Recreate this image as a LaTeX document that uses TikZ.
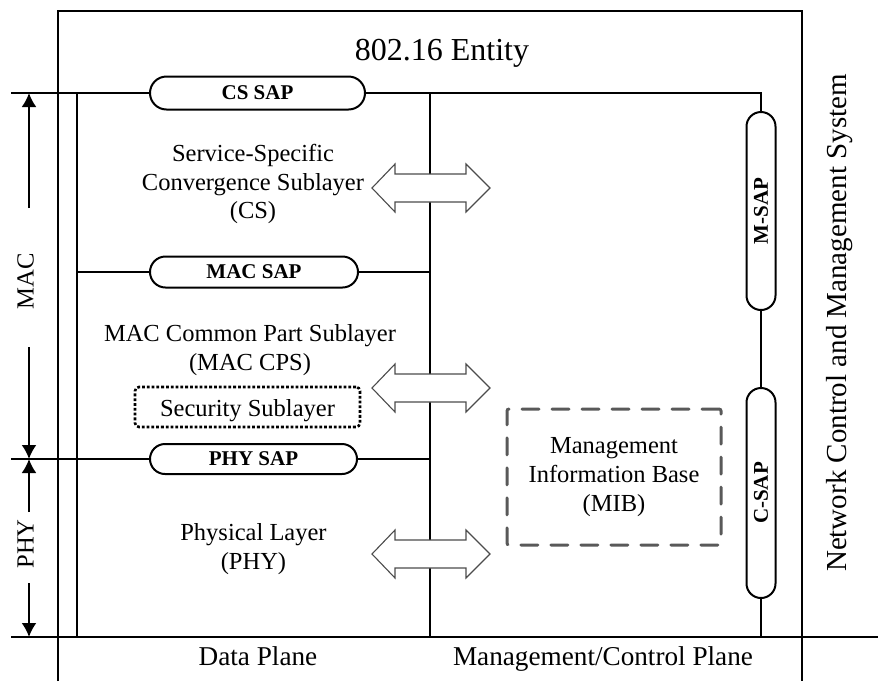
\documentclass[tikz,border=0pt]{standalone}
\usepackage{fontspec}
\setmainfont{Liberation Serif}
\usetikzlibrary{shapes.misc,arrows.meta}
\begin{document}
\begin{tikzpicture}[x=0.5pt,y=-0.5pt,
  line/.style={line width=1pt,black},
  pill/.style={draw,line width=1pt,rounded rectangle,inner sep=0pt,fill=white,
    font=\bfseries\fontsize{10.5}{12}\selectfont},
  body/.style={align=center,inner sep=0pt,font=\fontsize{12.25}{14.3}\selectfont},
  blockarrow/.style={draw=black!70,line width=0.55pt,fill=white,line join=miter},
  dimarrow/.style={line width=1pt,-{Latex[length=7pt,width=7.5pt]}},
  secbox/.style={draw,line width=1.3pt,dash pattern=on 1.4pt off 1pt,rounded corners=2pt},
  mibbox/.style={draw=black!65,line width=1.5pt,dash pattern=on 8.5pt off 6.5pt,line cap=round,rounded corners=1pt},
]
\useasboundingbox (0,0) rectangle (878,681);

% coordinates
\coordinate (fBL) at (58,681);
\coordinate (fTL) at (58,11);
\coordinate (fTR) at (802,11);
\coordinate (fBR) at (802,681);
\coordinate (csL) at (11,93);
\coordinate (csR) at (761,93);
\coordinate (inTop) at (77,93);
\coordinate (inBot) at (77,637);
\coordinate (midTop) at (430,93);
\coordinate (midBot) at (430,637);
\coordinate (macL) at (77,272);
\coordinate (macR) at (430,272);
\coordinate (phyL) at (11,459);
\coordinate (phyR) at (430,459);
\coordinate (botL) at (11,637);
\coordinate (botR) at (878,637);
\coordinate (csapBot) at (761,637);

% SAP pills
\node[pill,minimum width=107.5pt,minimum height=16.5pt] (cssap) at (257.5,93) {CS SAP};
\node[pill,minimum width=104pt,minimum height=15.5pt] (macsap) at (254,272) {MAC SAP};
\node[pill,minimum width=103.5pt,minimum height=15pt] (physap) at (253.5,459) {PHY SAP};
\node[pill,rotate=90,minimum width=99pt,minimum height=14.5pt] (msap) at (761,211) {M-SAP};
\node[pill,rotate=90,minimum width=105pt,minimum height=14.5pt] (csap) at (761,493) {C-SAP};

% frame and lines
\draw[line] (fBL) -- (fTL) -- (fTR) -- (fBR);
\draw[line] (csL) -- (cssap.west);
\draw[line] (cssap.east) -- (csR) -- (msap.east);
\draw[line] (inTop) -- (inBot);
\draw[line] (midTop) -- (midBot);
\draw[line] (macL) -- (macsap.west);
\draw[line] (macsap.east) -- (macR);
\draw[line] (phyL) -- (physap.west);
\draw[line] (physap.east) -- (phyR);
\draw[line] (botL) -- (botR);
\draw[line] (msap.west) -- (csap.east);
\draw[line] (csap.west) -- (csapBot);

% block arrows
\foreach \c in {188,388,554}{
  \draw[blockarrow] (372,\c) -- ++(23,-24) -- ++(0,10) -- ++(71,0) -- ++(0,-10)
    -- ++(24,24) -- ++(-24,24) -- ++(0,-10) -- ++(-71,0) -- ++(0,10) -- cycle;
}

% texts
\node[inner sep=0pt,anchor=base,font=\fontsize{16}{19}\selectfont] (title) at (442,60) {802.16 Entity};
\node[body] (cs) at (253,184) {Service-Specific\\Convergence Sublayer\\(CS)};
\node[body] (cps) at (250,350) {MAC Common Part Sublayer\\(MAC CPS)};
\node[body,secbox,minimum width=112.5pt,minimum height=20pt,text height=9pt,text depth=0pt] (sec) at (247.5,407) {Security Sublayer};
\node[body] (phy) at (253.5,549) {Physical Layer\\(PHY)};
\node[body,mibbox,font=\fontsize{12.25}{14.5}\selectfont,minimum width=107pt,minimum height=68pt] (mib) at (614,477) {Management\\Information Base\\(MIB)};
\node[inner sep=0pt,anchor=base,font=\fontsize{13.6}{16}\selectfont] (dp) at (258,665) {Data Plane};
\node[inner sep=0pt,anchor=base,font=\fontsize{13.6}{16}\selectfont] (mcp) at (603,665) {Management/Control Plane};
\node[inner sep=0pt,rotate=90,font=\fontsize{14.5}{17}\selectfont] (ncms) at (840,323) {Network Control and Management System};

% dimension arrows
\node[inner sep=0pt,rotate=90,font=\fontsize{12.3}{14}\selectfont] (maclbl) at (25.5,281) {MAC};
\node[inner sep=0pt,rotate=90,font=\fontsize{12.3}{14}\selectfont] (phylbl) at (25.5,544) {PHY};
\coordinate (macA1) at (29,208);
\coordinate (macTop) at (29,93);
\coordinate (macA2) at (29,347);
\coordinate (macBot) at (29,459);
\coordinate (phyA1) at (29,512);
\coordinate (phyTop) at (29,459);
\coordinate (phyA2) at (29,583);
\coordinate (phyBot) at (29,637);
\draw[dimarrow] (macA1) -- (macTop);
\draw[dimarrow] (macA2) -- (macBot);
\draw[dimarrow] (phyA1) -- (phyTop);
\draw[dimarrow] (phyA2) -- (phyBot);
\end{tikzpicture}
\end{document}
